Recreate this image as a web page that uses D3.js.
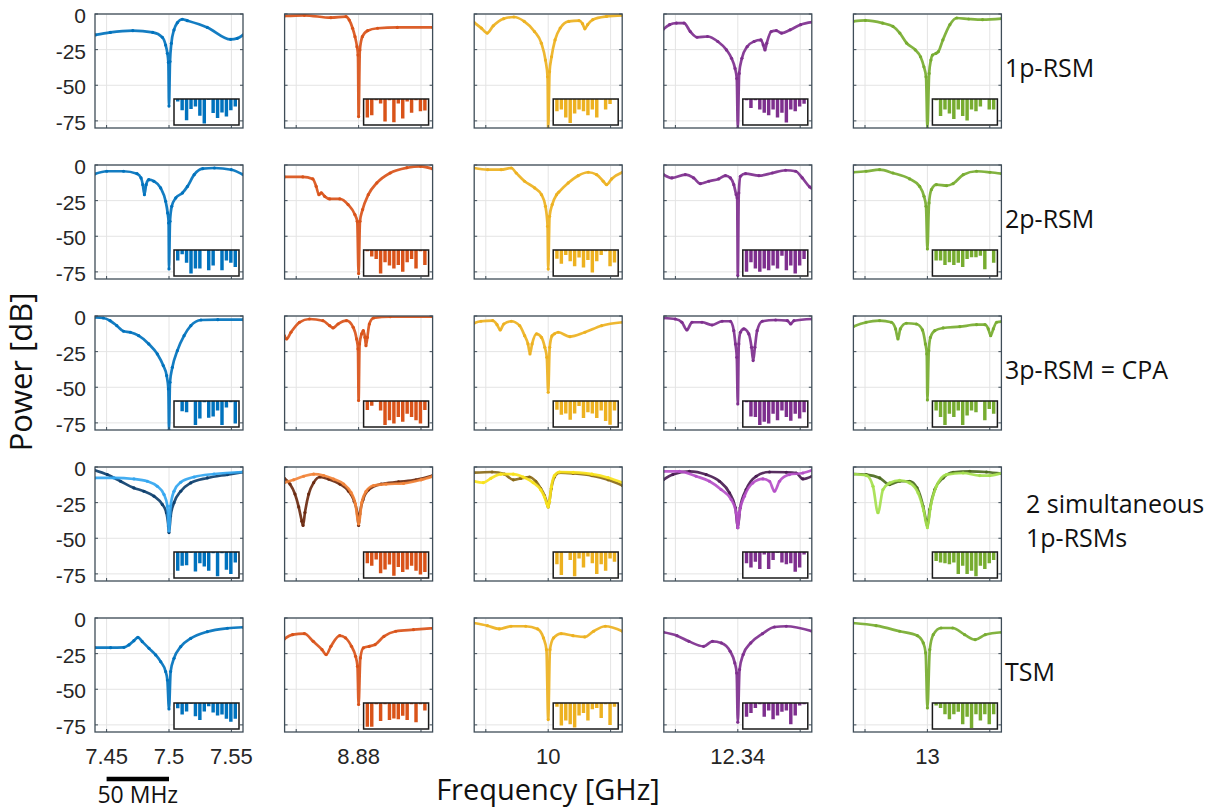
<!DOCTYPE html>
<html>
<head>
<meta charset="utf-8">
<script src="https://cdn.jsdelivr.net/npm/d3@7"></script>
<style>
body { margin: 0; background: #fff; }
svg { display: block; }
</style>
</head>
<body>
<svg id="svg1" width="1227" height="809"></svg>
<script>
// column centres (GHz) and tick labels
var centers = [7.5, 8.88, 10, 12.34, 13];
var centerLabels = ['7.5', '8.88', '10', '12.34', '13'];
var firstColTicks = [7.45, 7.5, 7.55];
var firstColLabels = ['7.45', '7.5', '7.55'];
var yTicks = [0, -25, -50, -75];
var rowNames = [['1p-RSM'], ['2p-RSM'], ['3p-RSM = CPA'], ['2 simultaneous', '1p-RSMs'], ['TSM']];

var mainColors = ['#0072BD', '#D95319', '#EDB120', '#7E2F8E', '#77AC30'];
var darkColors = ['#0d3f6e', '#6b2a10', '#8a6a18', '#4a1d52', '#4c6b1f'];
var lightColors = ['#33a6f0', '#f2843a', '#f8e21c', '#b64fc8', '#a5e04e'];

// curves: [offset from centre in MHz, power in dB]
var rsm1 = [
  [[-59,-14.7],[-47,-12.9],[-29,-11.7],[-13,-12.9],[-5.3,-16.4],[-2.7,-21.8],[-1.3,-27.6],[-0.5,-34],[0,-64.6],[0.8,-33.4],[1.9,-20.6],[4,-11.2],[6.7,-6.1],[10.7,-3.7],[14.7,-4.7],[30.7,-9.4],[49.4,-17.8],[54.7,-17.1],[59.5,-14.7]],
  [[-59.5,-1.4],[-43.5,-0.9],[-22.2,-2.6],[-10.1,-1.9],[-7.5,-4.2],[-4.8,-10],[-2.9,-15.9],[-1.3,-22.9],[-0.5,-28.8],[0,-72],[1,-25.3],[3,-15.9],[7.2,-11.7],[15.2,-10],[31,-9.4],[59.5,-9.4]],
  [[-59.5,-5.9],[-53.6,-9.9],[-48.9,-13.4],[-44,-8.3],[-35.7,-3.3],[-27.5,-2.1],[-19.2,-5.2],[-11,-12.3],[-5.5,-20.5],[-2.2,-32.3],[-0.5,-44.1],[0,-80],[1.1,-40.6],[2.7,-30],[5.5,-18.2],[9.6,-9.9],[16.5,-5.2],[24.7,-4.7],[27.5,-6.8],[29.4,-10.4],[31.6,-7.5],[35.7,-4],[46.7,-1.7],[59.5,-0.9]],
  [[-59.5,-10.6],[-54.7,-7.5],[-49.2,-6.4],[-43.1,-6.4],[-38.1,-12.3],[-32.6,-16.3],[-24.3,-15.8],[-16,-19.3],[-9.1,-25.2],[-5,-31.1],[-2.2,-38.2],[-0.8,-45.3],[0,-80],[1.1,-41.7],[3.3,-31.1],[7.5,-22.9],[13,-19.3],[18.5,-18.2],[20.4,-21.7],[21.8,-25.2],[23.2,-20.5],[26.8,-12.3],[30.9,-11.6],[35.1,-13.4],[42,-11.1],[50.3,-7.5],[59.5,-5.7]],
  [[-59.5,-5.2],[-49.7,-4.5],[-35.9,-6.4],[-27.6,-8.7],[-22.1,-13.4],[-16.6,-20.5],[-9.7,-25.2],[-5.5,-30],[-2.8,-37],[-1.1,-44.1],[0,-80],[1.4,-41.7],[2.8,-32.3],[4.1,-28.8],[6.9,-27.6],[8.8,-26.4],[12.4,-18.2],[18,-7.5],[23.5,-2.8],[33.1,-3.5],[44.2,-4],[59.5,-3.3]]
];
var rsm2 = [
  [[-59.5,-6.3],[-49.9,-4.4],[-36.4,-4.4],[-25.6,-6.1],[-22.4,-9.1],[-21,-13.8],[-19.7,-20.8],[-18.3,-13.8],[-16.2,-10.3],[-12.1,-11.4],[-6.7,-16.1],[-2.7,-25.5],[-1.1,-33.6],[-0.3,-40.7],[0,-72.9],[0.8,-39.5],[2.2,-29],[5.4,-23.1],[10.8,-19.6],[14.8,-15],[20.2,-6.8],[27,-2.6],[36.4,-2.1],[49.9,-3.3],[59.5,-6.8]],
  [[-59.5,-8.4],[-44.7,-8.4],[-36.7,-9.8],[-34,-15],[-31.8,-20.8],[-29.9,-19.6],[-27.2,-22],[-23.2,-23.8],[-15.1,-23.8],[-8.4,-27.8],[-3,-34.8],[-1.1,-39.5],[0,-76.2],[1.1,-39.5],[3.2,-31.3],[7.8,-20.8],[14.6,-12.6],[25.3,-5.6],[38.8,-1.9],[49.6,-0.9],[59.5,-2.8]],
  [[-59.5,-2.1],[-48.5,-3.3],[-37.7,-3.3],[-29.6,-2.1],[-25.6,-5.6],[-18.9,-11.4],[-10.8,-16.1],[-5.4,-20.8],[-2.2,-29],[-0.5,-43],[0,-73],[1.1,-36],[3.2,-27.8],[6.7,-20.8],[8.5,-19],[16,-12.6],[24,-7.5],[32.1,-5.1],[38.8,-6.8],[44.1,-11.4],[46.8,-13.8],[50.8,-9.8],[59.5,-5.1]],
  [[-59.5,-6.8],[-52.8,-9.1],[-42.1,-6.8],[-35.4,-9.1],[-30,-13.1],[-23.3,-11.4],[-15.3,-9.8],[-9.9,-7.5],[-5.9,-9.1],[-3.2,-13.8],[-1.3,-20.8],[-0.5,-23.1],[0,-77.6],[0.8,-19.6],[2.1,-7.9],[6.2,-6.1],[16.9,-7.5],[27.6,-5.6],[38.3,-3.7],[46.4,-4.4],[51.7,-9.1],[57.6,-15.4],[59.5,-16.5]],
  [[-59.5,-5.1],[-49.1,-4.4],[-38.3,-3.3],[-27.6,-5.6],[-14.2,-9.8],[-6.2,-15],[-2.7,-22],[-1.1,-29],[0,-58.9],[1.3,-26.6],[3.2,-17.3],[7.2,-13.8],[15.3,-14.5],[20.6,-13.1],[28.7,-6.8],[39.4,-4.4],[50.1,-5.1],[59.5,-6.1]]
];
var rsm3 = [
  [[-59.5,-0.9],[-52.6,-1.4],[-47.2,-3.3],[-41.8,-6.8],[-36.4,-10.7],[-31,-11.4],[-24.3,-13.8],[-16.2,-19.6],[-9.4,-26.6],[-4.6,-34.8],[-1.9,-41.8],[-0.5,-51.2],[0,-80],[0.8,-46.5],[2.7,-36],[6.7,-24.3],[12.1,-13.8],[17.5,-6.8],[25.6,-2.8],[39.1,-2.6],[59.5,-2.6]],
  [[-59.5,-13.8],[-57.7,-16.1],[-54.2,-11.4],[-47.4,-4.4],[-39.4,-2.1],[-28.6,-3.3],[-23.2,-6.8],[-20.5,-8.4],[-16.4,-5.6],[-9.7,-3.3],[-4.3,-7.9],[-1.6,-16.1],[-0.5,-23.1],[0,-59.3],[0.8,-19.6],[2.4,-12.6],[3.8,-10.3],[5.1,-15],[5.9,-20.8],[7,-15],[8.6,-5.6],[11.9,-1.4],[25.3,-0.5],[59.5,-0.5]],
  [[-59.5,-5.1],[-53.9,-3.7],[-44.5,-3.3],[-41,-6.1],[-38.5,-9.8],[-35.6,-5.6],[-29.6,-3.7],[-22.9,-6.8],[-18.9,-13.8],[-16.2,-19.6],[-14.6,-26.6],[-12.9,-19.6],[-9.4,-12.6],[-5.4,-15],[-2.7,-22],[-1.1,-29],[0,-53.5],[1.2,-22],[3,-14],[5,-12.5],[8,-11.4],[17.4,-14.5],[29.4,-11.4],[42.8,-6.8],[59.5,-4.4]],
  [[-59.5,-1.4],[-50.1,-2.1],[-44.8,-4.4],[-40.8,-9.8],[-36.7,-4.4],[-28.7,-4.4],[-20.6,-6.3],[-12.6,-3.7],[-5.9,-3.7],[-3.2,-10.3],[-1.9,-19.6],[-0.8,-29],[0,-61.7],[0.8,-19.6],[2.1,-11.4],[4.8,-9.1],[8.8,-12.6],[11,-22],[12.3,-31.3],[13.7,-22],[15.5,-10.3],[19.6,-3.7],[30.3,-2.8],[39.7,-3.3],[42.4,-5.6],[45,-3.3],[59.5,-2.1]],
  [[-59.5,-7.5],[-49.1,-4.4],[-38.3,-3.3],[-28.9,-4.4],[-25.5,-9.1],[-23.6,-16.1],[-21.7,-9.1],[-16.9,-5.1],[-8.8,-5.6],[-4,-9.8],[-1.6,-19.6],[-0.5,-26.6],[0,-58.9],[1.1,-24.3],[2.4,-15],[5.9,-10.3],[12.6,-8.4],[26,-7.5],[39.4,-6.1],[46.1,-6.1],[48.8,-9.1],[50.7,-13.8],[52.8,-9.1],[55.5,-4.4],[59.5,-4]]
];
var simDark = [
  [[-59.5,-2.3],[-49.5,-5.3],[-38.8,-10],[-28.1,-14.7],[-20.1,-17],[-12,-20.5],[-5.3,-26.3],[-2.1,-32.1],[-0.5,-41.4],[0,-46],[1.3,-34.4],[4,-25.1],[9.4,-17],[17.4,-11.2],[30.7,-7.7],[46.8,-5.3],[59.5,-3.5]],
  [[-59.5,-8],[-55,-12],[-51,-19],[-48,-28],[-45.5,-38],[-44.5,-41],[-43,-32],[-40,-19],[-36,-11],[-31,-7],[-24,-8.5],[-15,-12],[-8,-17],[-3.5,-24],[-1,-33],[0,-41],[1,-33],[3.5,-23],[8,-16],[18,-12],[32,-10.5],[46,-9],[59.5,-6]],
  [[-59.5,-4],[-45,-3.5],[-35,-5],[-28,-9],[-22,-8],[-15,-7],[-10,-10],[-6,-15],[-3,-20],[-1,-25],[0,-28],[1,-24],[2.5,-15],[5,-7],[9,-4],[20,-4.5],[35,-6],[48,-9],[59.5,-13]],
  [[-59.5,-8.8],[-52.1,-5.3],[-38.8,-3],[-25.4,-5.3],[-14.7,-10],[-6.7,-18.1],[-1.9,-28.6],[0,-42.6],[1.9,-28.6],[6.7,-15.8],[14.7,-6.5],[25.4,-3.5],[38.8,-3.7],[46.8,-4.2],[52.1,-8.4],[59.5,-6.5]],
  [[-59.5,-4.9],[-48.9,-5.3],[-38.2,-7.7],[-30.2,-12.3],[-22.2,-10],[-14.2,-10],[-8.3,-14.7],[-3.5,-27.4],[-1.3,-36.7],[0,-41.4],[1.9,-29.8],[5.9,-15.8],[12.6,-7.7],[20.6,-3.7],[34,-3],[47.3,-3.5],[59.5,-4.7]]
];
var simLight = [
  [[-59.5,-7.7],[-44.1,-7.7],[-28.1,-8.4],[-17.4,-10],[-9.4,-13.5],[-4,-19.3],[-1.3,-27.4],[0,-44.9],[1.3,-27.4],[4,-17],[9.4,-10.7],[20.1,-7],[36.1,-4.9],[59.5,-3.5]],
  [[-59.5,-11],[-52,-9],[-44,-6.5],[-36,-5],[-28,-6],[-20,-8.5],[-12,-12],[-6,-18],[-2.5,-26],[0,-40],[2.5,-25],[6,-17],[12,-13],[22,-12],[36,-11.5],[50,-9],[59.5,-6.5]],
  [[-59.5,-10],[-52,-11],[-46,-8],[-38,-5],[-28,-5],[-20,-7],[-12,-11],[-6,-16],[-3,-21],[-1,-26],[0,-28],[1,-24],[2.5,-14],[5,-6],[9,-3.5],[20,-3.8],[35,-5],[48,-7.5],[59.5,-11]],
  [[-59.5,-3],[-46.8,-3],[-33.4,-6.5],[-22.7,-10],[-13.4,-15.8],[-5.3,-22.8],[-1.3,-32.1],[0,-42.6],[1.3,-32.1],[5.3,-20.5],[12,-11.2],[20.1,-8.4],[25.4,-10],[29.4,-17],[33.4,-10],[41.4,-5.3],[52.1,-4.2],[59.5,-2.3]],
  [[-59.5,-4.9],[-48.9,-6],[-43.6,-13.5],[-39.6,-32.1],[-35.6,-15.8],[-30.2,-11.2],[-22.2,-9.3],[-14.2,-11.2],[-7.5,-18.1],[-2.9,-30.9],[0,-42.6],[2.4,-28.6],[7.2,-13.5],[15.2,-5.3],[28.6,-4.2],[42,-6],[50,-6],[59.5,-4.2]]
];
var tsm = [
  [[-59.5,-20.8],[-46.8,-20.8],[-36.1,-20.6],[-32.1,-18.9],[-28.1,-15.9],[-24.9,-13.6],[-21.4,-16.6],[-16,-21.3],[-10.7,-25.9],[-6.7,-30.6],[-2.7,-37.6],[-1.3,-43.5],[0,-63.8],[1.3,-37.6],[4,-28.3],[9.4,-20.1],[17.4,-14.3],[30.7,-9.6],[46.8,-7.2],[59.5,-6.5]],
  [[-59.5,-14.7],[-52.9,-11.7],[-43.5,-11],[-36.4,-16.4],[-29.3,-22.2],[-26,-25.7],[-22.2,-19.9],[-15.1,-12.4],[-10.4,-14],[-5.7,-19.9],[-2.4,-26.9],[-0.9,-33.9],[0,-60.7],[1.4,-28],[3.8,-21],[8.5,-19.9],[13.2,-18.7],[20.3,-12.9],[29.8,-9.3],[44,-8.2],[59.5,-7.2]],
  [[-59.5,-3.5],[-48.7,-5.4],[-39.2,-7.7],[-29.8,-5.8],[-18,-5.8],[-8.5,-7.7],[-3.8,-14],[-1.4,-22.2],[0,-71.3],[1.4,-22.2],[4.3,-14],[10.4,-11],[19.8,-12.4],[29.3,-13.3],[36.4,-9.3],[45.8,-5.8],[59.5,-9.3]],
  [[-59.5,-10],[-48.7,-12.4],[-39.2,-16.4],[-27.4,-19.9],[-20.3,-16.4],[-13.2,-17.5],[-6.1,-23.4],[-2.4,-31.5],[-0.9,-38.6],[0,-73.1],[1.4,-36.2],[4.3,-25.7],[10.4,-17.5],[19.8,-11],[29.3,-6.3],[38.8,-5.8],[59.5,-9.3]],
  [[-59.5,-3.5],[-41.1,-5.4],[-22.2,-9.3],[-8,-12.4],[-3.3,-17.5],[-1.4,-24.5],[0,-63.1],[1.9,-22.2],[4.7,-11.7],[10.9,-7],[20.3,-7],[29.8,-11.7],[38.3,-15.2],[46.3,-11.7],[59.5,-10]]
];

// inset bar lengths (fraction of inset height)
var bars1 = [
  [0.1,0.45,0.85,0.4,0.3,0.67,0.98,0.03,0.56,0.76,0.54,0.7,0.45,0.3],
  [0.74,0.65,0.05,0.18,0.9,0.05,0.93,0.18,0.78,0.1,0.55,0.05,0.49,0.46],
  [0.49,0.42,0.74,0.96,0.58,0.42,0.49,0.65,0.42,0.74,0.02,0.42,0.2,0.02],
  [0.05,0.36,0.05,0.42,0.55,0.65,0.42,0.74,0.55,0.94,0.42,0.49,0.3,0.19],
  [0.05,0.68,0.42,0.58,0.8,0.42,0.68,0.86,0.42,0.49,0.3,0.02,0.42,0.42]
];
var bars2 = [
  [0.42,0.17,0.51,0.94,0.74,0.74,0.02,0.81,0.62,0.02,0.81,0.42,0.51,0.68],
  [0.05,0.26,0.36,0.94,0.49,0.62,0.74,0.6,0.87,0.49,0.36,0.74,0.05,0.6],
  [0.35,0.55,0.2,0.45,0.65,0.3,0.7,0.4,0.9,0.45,0.2,0.05,0.65,0.5],
  [0.87,0.49,0.74,0.87,0.74,0.81,0.62,0.74,0.23,0.81,0.62,0.94,0.62,0.36],
  [0.42,0.42,0.6,0.49,0.6,0.51,0.68,0.36,0.29,0.29,0.23,0.77,0.02,0.51]
];
var bars3 = [
  [0.02,0.41,0.45,0.02,0.96,0.7,0.05,0.67,0.62,0.38,0.96,0.26,0.05,0.9],
  [0.36,0.19,0.02,0.38,0.96,0.77,0.9,0.64,0.83,0.51,0.64,0.77,0.9,0.36],
  [0.35,0.55,0.5,0.75,0.5,0.2,0.68,0.45,0.5,0.68,0.38,0.8,0.95,0.38],
  [0.05,0.62,0.64,0.96,0.83,0.9,0.51,0.77,0.38,0.64,0.79,0.51,0.7,0.45],
  [0.38,0.64,0.96,0.51,0.64,0.38,0.96,0.58,0.38,0.45,0.02,0.77,0.32,0.51]
];
var bars4 = [
  [0.75,0.55,0.53,0.03,0.78,0.45,0.58,0.75,0.05,0.97,0.05,0.71,0.88,0.42],
  [0.45,0.55,0.3,0.85,0.7,0.5,0.95,0.6,0.8,0.7,0.55,0.75,0.9,0.8],
  [0.49,0.92,0.02,0.32,0.97,0.26,0.62,0.18,0.45,0.88,0.49,0.75,0.26,0.39],
  [0.45,0.62,0.39,0.68,0.1,0.68,0.32,0.03,0.42,0.49,0.45,0.79,0.62,0.1],
  [0.36,0.42,0.45,0.49,0.42,0.88,0.55,0.88,0.75,0.97,0.55,0.68,0.45,0.32]
];
var bars5 = [
  [0.21,0.46,0.34,0.03,0.53,0.68,0.34,0.13,0.38,0.5,0.46,0.63,0.75,0.63],
  [0.95,0.95,0.05,0.72,0.05,0.68,0.62,0.65,0.51,0.68,0.05,0.77,0.05,0.3],
  [0.15,0.9,0.7,0.85,0.98,0.5,0.4,0.7,0.25,0.2,0.6,0.05,0.88,0.15],
  [0.55,0.4,0.2,0.05,0.55,0.3,0.65,0.5,0.35,0.3,0.85,0.5,0.1,0.05],
  [0.1,0.2,0.45,0.65,0.45,0.35,0.85,0.55,1.0,0.45,0.7,0.45,0.85,0.45]
];

var rowCurves = [[rsm1], [rsm2], [rsm3], [simDark, simLight], [tsm]];
var rowBars = [bars1, bars2, bars3, bars4, bars5];

// layout
var panelW = 148, panelH = 114;
var left0 = 95, colStep = 189.6;
var top0 = 14, rowStep = 151;
var insetW = 65, insetH = 26;
var frameColor = '#3f4d58';
var axisFont = '"Liberation Sans", Arial, sans-serif';
var labelFont = '"Open Sans", "Noto Sans", sans-serif';

var y = d3.scaleLinear().domain([-80, 0]).range([panelH, 0]);

function makeX(c) {
    return d3.scaleLinear().domain([c - 0.0593, c + 0.0593]).range([0, panelW]);
}

var svg = d3.select('#svg1');

svg.append('defs').append('clipPath')
    .attr('id', 'panelClip')
    .append('rect')
    .attr('width', panelW)
    .attr('height', panelH);

var barX = d3.scaleBand().domain(d3.range(14)).range([2, insetW - 2]).paddingInner(0.22);
var barY = d3.scaleLinear().domain([0, 1]).range([0, insetH - 1]);

rowCurves.forEach(function(curveSets, r) {
    var top = top0 + r * rowStep;

    centers.forEach(function(c, i) {
        var left = left0 + i * colStep;
        var x = makeX(c);
        var g = svg.append('g').attr('transform', 'translate(' + left + ',' + top + ')');
        var gridX = [c - 0.05, c, c + 0.05];

        // grid
        g.selectAll('.vgrid').data(gridX).enter().append('line')
            .attr('x1', function(d) { return x(d); })
            .attr('x2', function(d) { return x(d); })
            .attr('y1', 0).attr('y2', panelH)
            .attr('stroke', '#e4e4e4').attr('stroke-width', 1);
        g.selectAll('.hgrid').data(yTicks).enter().append('line')
            .attr('x1', 0).attr('x2', panelW)
            .attr('y1', function(d) { return y(d); })
            .attr('y2', function(d) { return y(d); })
            .attr('stroke', '#e4e4e4').attr('stroke-width', 1);

        // curves
        var plot = g.append('g').attr('clip-path', 'url(#panelClip)');
        var makeLine = d3.line()
            .x(function(d) { return x(c + d[0] / 1000); })
            .y(function(d) { return y(d[1]); })
            .curve(d3.curveMonotoneX);

        curveSets.forEach(function(set, k) {
            var col = mainColors[i];
            if (curveSets.length > 1) col = k === 0 ? darkColors[i] : lightColors[i];
            var pts = set[i];
            plot.append('path')
                .datum(pts)
                .attr('d', makeLine)
                .attr('fill', 'none')
                .attr('stroke', col)
                .attr('stroke-width', 2.7)
                .attr('stroke-opacity', 0.92);
            plot.selectAll('.dot' + k).data(pts).enter().append('circle')
                .attr('cx', function(d) { return x(c + d[0] / 1000); })
                .attr('cy', function(d) { return y(d[1]); })
                .attr('r', 1.6)
                .attr('fill', col);
        });

        // inset with bars
        var inset = g.append('g')
            .attr('transform', 'translate(' + (panelW - 4 - insetW) + ',' + (panelH - 3 - insetH) + ')');
        inset.append('rect')
            .attr('width', insetW).attr('height', insetH)
            .attr('fill', '#fff');
        inset.selectAll('.bar').data(rowBars[r][i]).enter().append('rect')
            .attr('x', function(d, j) { return barX(j); })
            .attr('y', 0)
            .attr('width', barX.bandwidth())
            .attr('height', function(d) { return barY(d); })
            .attr('fill', mainColors[i]);
        inset.append('rect')
            .attr('width', insetW).attr('height', insetH)
            .attr('fill', 'none')
            .attr('stroke', '#1a1a1a')
            .attr('stroke-width', 1.5);

        // frame and ticks
        g.append('rect')
            .attr('width', panelW).attr('height', panelH)
            .attr('fill', 'none')
            .attr('stroke', frameColor)
            .attr('stroke-width', 1.3);
        g.selectAll('.ytick').data(yTicks).enter().append('line')
            .attr('x1', 0).attr('x2', 3)
            .attr('y1', function(d) { return y(d); })
            .attr('y2', function(d) { return y(d); })
            .attr('stroke', frameColor);
        g.selectAll('.ytick2').data(yTicks).enter().append('line')
            .attr('x1', panelW - 3).attr('x2', panelW)
            .attr('y1', function(d) { return y(d); })
            .attr('y2', function(d) { return y(d); })
            .attr('stroke', frameColor);
        g.selectAll('.xtick').data(gridX).enter().append('line')
            .attr('x1', function(d) { return x(d); })
            .attr('x2', function(d) { return x(d); })
            .attr('y1', panelH - 3).attr('y2', panelH)
            .attr('stroke', frameColor);

        // y labels on first column
        if (i === 0) {
            g.selectAll('.ylab').data(yTicks).enter().append('text')
                .attr('x', -9)
                .attr('y', function(d) { return y(d) + 9; })
                .attr('text-anchor', 'end')
                .style('font-family', axisFont)
                .style('font-size', '21px')
                .attr('fill', '#262626')
                .text(function(d) { return d; });
        }

        // x labels on last row
        if (r === rowCurves.length - 1) {
            var ticks = i === 0 ? firstColTicks : [c];
            var labels = i === 0 ? firstColLabels : [centerLabels[i]];
            g.selectAll('.xlab').data(ticks).enter().append('text')
                .attr('x', function(d) { return x(d); })
                .attr('y', panelH + 32)
                .attr('text-anchor', 'middle')
                .style('font-family', axisFont)
                .style('font-size', '22px')
                .attr('fill', '#262626')
                .text(function(d, j) { return labels[j]; });

            if (i === 0) {
                // 50 MHz scale bar
                g.append('line')
                    .attr('x1', x(7.45)).attr('x2', x(7.5))
                    .attr('y1', panelH + 47).attr('y2', panelH + 47)
                    .attr('stroke', '#000')
                    .attr('stroke-width', 4.5);
                g.append('text')
                    .attr('x', (x(7.45) + x(7.5)) / 2)
                    .attr('y', panelH + 71)
                    .attr('text-anchor', 'middle')
                    .style('font-family', labelFont)
                    .style('font-size', '23px')
                    .attr('fill', '#111')
                    .text('50 MHz');
            }
        }
    });

    // row label on the right
    var names = rowNames[r];
    var lx = names.length > 1 ? 1026 : 1005;
    var ly = names.length > 1 ? top + 46 : top + 63;
    names.forEach(function(n, k) {
        svg.append('text')
            .attr('x', lx)
            .attr('y', ly + k * 34)
            .style('font-family', labelFont)
            .style('font-size', '25px')
            .attr('fill', '#111')
            .text(n);
    });
});

// axis titles
svg.append('text')
    .attr('x', 548)
    .attr('y', 800)
    .attr('text-anchor', 'middle')
    .style('font-family', labelFont)
    .style('font-size', '29px')
    .attr('fill', '#111')
    .text('Frequency [GHz]');

svg.append('text')
    .attr('transform', 'translate(32,372)rotate(-90)')
    .attr('text-anchor', 'middle')
    .style('font-family', labelFont)
    .style('font-size', '31px')
    .attr('fill', '#111')
    .text('Power [dB]');
</script>
</body>
</html>
